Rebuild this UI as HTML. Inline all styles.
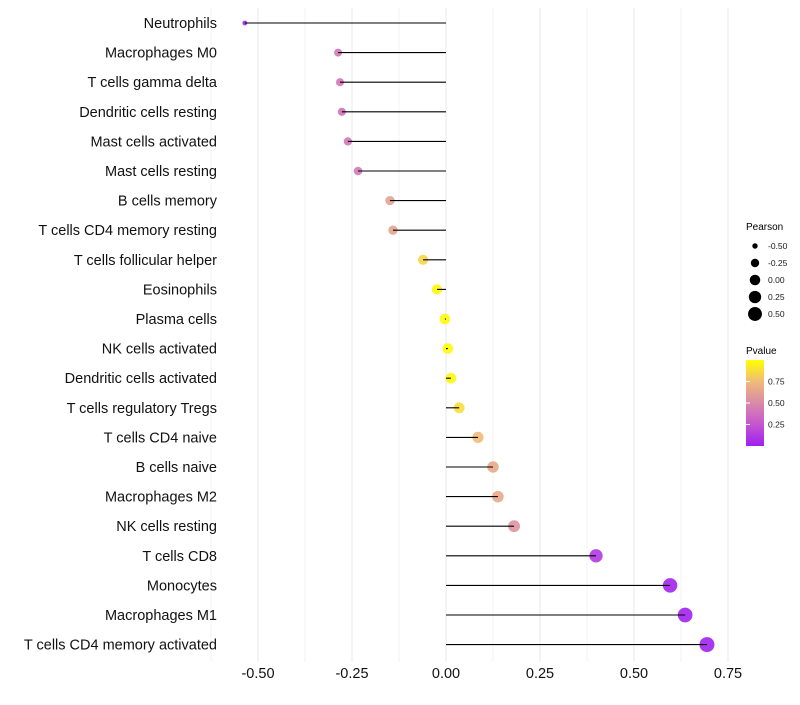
<!DOCTYPE html>
<html><head><meta charset="utf-8"><style>
body{margin:0;background:#fff;}
svg text{font-family:"Liberation Sans",sans-serif;}
</style></head><body>
<svg id="chart" width="800" height="700" xmlns="http://www.w3.org/2000/svg">
<g id="grid"></g>
<g id="marks"></g>
<g id="ylabels"></g>
<g id="xlabels"></g>
<g>
<text x="746" y="230" font-size="10">Pearson</text>
<g id="sizeLegend"></g>
</g>
<g>
<text x="746" y="354" font-size="10">Pvalue</text>
<defs><linearGradient id="pg" x1="0" y1="1" x2="0" y2="0">
<stop offset="0" stop-color="#a020f0"/><stop offset="0.25" stop-color="#c455d0"/><stop offset="0.5" stop-color="#d98aa8"/><stop offset="0.75" stop-color="#f0bb78"/><stop offset="1" stop-color="#ffff00"/></linearGradient></defs>
<rect x="746" y="360" width="18" height="86" fill="url(#pg)"/>
<g id="pvTicks"></g>
</g>
</svg>
<script>
const categories=["Neutrophils","Macrophages M0","T cells gamma delta","Dendritic cells resting","Mast cells activated","Mast cells resting","B cells memory","T cells CD4 memory resting","T cells follicular helper","Eosinophils","Plasma cells","NK cells activated","Dendritic cells activated","T cells regulatory  Tregs ","T cells CD4 naive","B cells naive","Macrophages M2","NK cells resting","T cells CD8","Monocytes","Macrophages M1","T cells CD4 memory activated"];
const pearson=[-0.535,-0.287,-0.282,-0.277,-0.261,-0.234,-0.149,-0.141,-0.061,-0.024,-0.003,0.005,0.013,0.035,0.085,0.125,0.138,0.181,0.399,0.596,0.636,0.694];
const pvalue=[0.01,0.4,0.4,0.38,0.4,0.42,0.62,0.63,0.85,0.97,0.99,0.98,0.97,0.88,0.75,0.66,0.66,0.55,0.12,0.02,0.01,0.01];
const xTicks=[-0.5,-0.25,0,0.25,0.5,0.75];
const xTickLabels=["-0.50","-0.25","0.00","0.25","0.50","0.75"];
const sizeLegendVals=[-0.5,-0.25,0,0.25,0.5];
const sizeLegendLabels=["-0.50","-0.25","0.00","0.25","0.50"];
const pvTickVals=[0.25,0.5,0.75];
const pvTickLabels=["0.25","0.50","0.75"];

const NS="http://www.w3.org/2000/svg";
const x=v=>446+376*v;
const y=i=>23+i*29.6;
const r=v=>Math.sqrt(Math.max(4,27.8+41*v));
const stops=[[0,[160,32,240]],[0.25,[196,85,208]],[0.5,[217,138,168]],[0.75,[240,187,120]],[1,[255,255,0]]];
function col(p){for(let k=0;k<stops.length-1;k++){const a=stops[k],b=stops[k+1];if(p<=b[0]){const t=(p-a[0])/(b[0]-a[0]);return "rgb("+a[1].map((c,j)=>Math.round(c+(b[1][j]-c)*t)).join(",")+")";}}return "rgb(255,255,0)";}
function mk(tag,attrs,parent){const e=document.createElementNS(NS,tag);for(const k in attrs)e.setAttribute(k,attrs[k]);parent.appendChild(e);return e;}
const grid=document.getElementById('grid');
for(let v=-0.625;v<=0.8;v+=0.125){const g=mk('line',{x1:x(v),x2:x(v),y1:8,y2:662,stroke:'#ebebeb','stroke-width':Math.abs((v/0.25)-Math.round(v/0.25))<0.01?1.1:0.6},grid);

}
const marks=document.getElementById('marks'),yl=document.getElementById('ylabels');
categories.forEach((c,i)=>{
 const pt=mk('circle',{cx:x(pearson[i]),cy:y(i),r:r(pearson[i]),fill:col(pvalue[i]),'fill-opacity':0.9},marks);
 
 
 const ln=mk('line',{x1:x(0),x2:x(pearson[i]),y1:y(i),y2:y(i),stroke:'#000','stroke-width':1.1},marks);
 
 
 const t=mk('text',{x:217,y:y(i)+5,'text-anchor':'end','font-size':14.5,fill:'#111'},yl);
 t.textContent=c;
 
 
});
const xl=document.getElementById('xlabels');
xTicks.forEach((v,i)=>{const t=mk('text',{x:x(v),y:678,'text-anchor':'middle','font-size':14.5,fill:'#111'},xl);t.textContent=xTickLabels[i];

});
const sl=document.getElementById('sizeLegend');
sizeLegendVals.forEach((v,i)=>{const cy=246+i*17;
 const c=mk('circle',{cx:755,cy:cy,r:r(v),fill:'#000'},sl);
 
 
 const t=mk('text',{x:768,y:cy+3,'font-size':8.5,fill:'#1a1a1a'},sl);t.textContent=sizeLegendLabels[i];
 
 });
const pt=document.getElementById('pvTicks');
pvTickVals.forEach((v,i)=>{const yy=446-v*86;
 const l=mk('line',{x1:746,x2:750,y1:yy,y2:yy,stroke:'#fff'},pt);
 
 
 const t=mk('text',{x:768,y:yy+3,'font-size':8.5,fill:'#1a1a1a'},pt);t.textContent=pvTickLabels[i];
 
 });
</script>
</body></html>
